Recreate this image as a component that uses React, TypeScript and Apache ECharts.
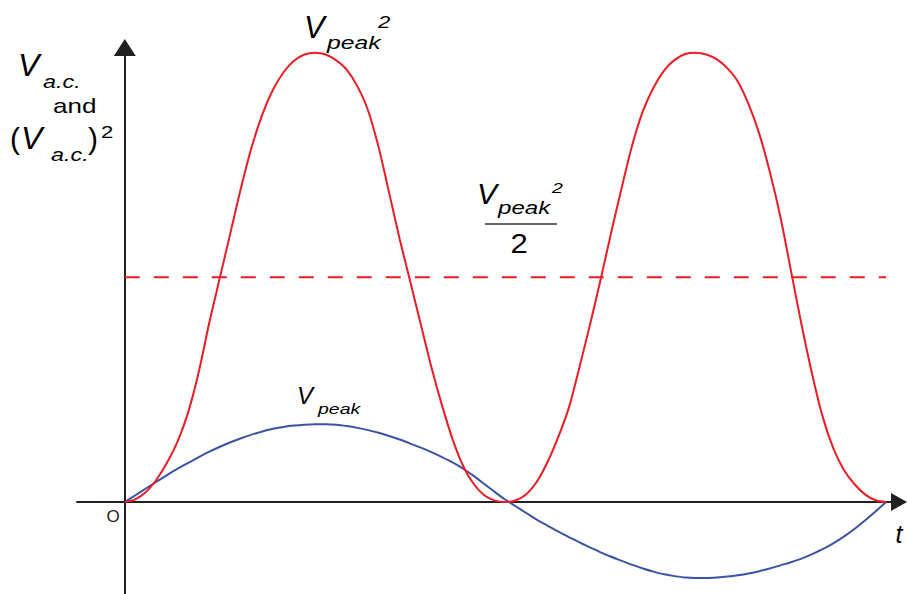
import React, { useEffect, useRef } from "react";
import * as echarts from "echarts";

// phase angle (degrees) along t
const tDeg = [
  0, 5, 10, 15, 20, 25, 30, 35, 40, 45, 50, 55, 60, 65, 70, 75, 80, 85, 90, 95, 100, 105, 110,
  115, 120, 125, 130, 135, 140, 145, 150, 155, 160, 165, 170, 175, 180, 185, 190, 195, 200,
  205, 210, 215, 220, 225, 230, 235, 240, 245, 250, 255, 260, 265, 270, 275, 280, 285, 290,
  295, 300, 305, 310, 315, 320, 325, 330, 335, 340, 345, 350, 355, 360,
];
// (V a.c.)^2, normalised to Vpeak^2 = 1
const squareVals = [
  0, 0.006, 0.022, 0.05, 0.088, 0.135, 0.2, 0.29, 0.4, 0.5, 0.6, 0.7, 0.79, 0.862, 0.917,
  0.956, 0.982, 0.996, 1.0, 0.996, 0.983, 0.962, 0.925, 0.872, 0.79, 0.688, 0.585, 0.49,
  0.395, 0.3, 0.215, 0.14, 0.08, 0.04, 0.015, 0.003, 0, 0.004, 0.018, 0.046, 0.09, 0.145,
  0.21, 0.3, 0.395, 0.495, 0.6, 0.7, 0.795, 0.87, 0.922, 0.96, 0.984, 0.997, 1.0, 0.996,
  0.985, 0.965, 0.935, 0.885, 0.82, 0.735, 0.635, 0.515, 0.395, 0.285, 0.19, 0.12, 0.072,
  0.04, 0.017, 0.004, 0,
];
// V a.c. on the same scale
const acVals = [
  0, 0.015, 0.03, 0.045, 0.06, 0.074, 0.087, 0.1, 0.112, 0.123, 0.133, 0.142, 0.15, 0.157,
  0.163, 0.167, 0.17, 0.172, 0.173, 0.173, 0.172, 0.169, 0.165, 0.16, 0.154, 0.147, 0.139,
  0.13, 0.121, 0.111, 0.1, 0.088, 0.074, 0.058, 0.04, 0.022, 0.005, -0.01, -0.025, -0.04,
  -0.053, -0.066, -0.078, -0.09, -0.101, -0.112, -0.122, -0.131, -0.14, -0.148, -0.155,
  -0.161, -0.165, -0.168, -0.169, -0.169, -0.168, -0.166, -0.163, -0.159, -0.154, -0.148,
  -0.141, -0.134, -0.126, -0.116, -0.105, -0.092, -0.077, -0.06, -0.041, -0.021, 0,
];
const halfLevel = 0.5; // Vpeak^2 / 2

const RED = "#ec1c24";
const BLUE = "#3a53a4";
const AXIS = "#231f20";
const FONT = "'Liberation Sans', Arial, sans-serif";

type T = {
  text: string;
  x: number;
  base: number; // baseline
  size: number;
  italic?: boolean;
  sx?: number;
  color?: string;
  align?: string;
};

const labels: T[] = [
  // top-left axis title
  { text: "V", x: 18, base: 75, size: 32, italic: true },
  { text: "a.c.", x: 43, base: 87, size: 18, italic: true, sx: 1.3 },
  { text: "and", x: 53, base: 112, size: 20, sx: 1.3 },
  { text: "(", x: 10, base: 148, size: 30 },
  { text: "V", x: 21, base: 148, size: 32, italic: true },
  { text: "a.c.", x: 51, base: 160, size: 18, italic: true, sx: 1.3 },
  { text: ")", x: 88, base: 148, size: 30 },
  { text: "2", x: 101, base: 137.5, size: 17, sx: 1.3 },
  // peak of square curve
  { text: "V", x: 304, base: 37, size: 31, italic: true },
  { text: "peak", x: 327, base: 48, size: 19, italic: true, sx: 1.3 },
  { text: "2", x: 378, base: 27.5, size: 17, italic: true, sx: 1.3 },
  // fraction
  { text: "V", x: 477, base: 203, size: 30, italic: true },
  { text: "peak", x: 498, base: 213, size: 19, italic: true, sx: 1.27 },
  { text: "2", x: 552, base: 192.5, size: 15, italic: true, sx: 1.3 },
  { text: "2", x: 519, base: 252, size: 27, align: "center", sx: 1.15 },
  // Vpeak near blue curve
  { text: "V", x: 297, base: 403, size: 24, italic: true },
  { text: "peak", x: 318, base: 413, size: 15, italic: true, sx: 1.3 },
  // origin and t
  { text: "O", x: 113, base: 522, size: 17, align: "center", color: AXIS },
  { text: "t", x: 899, base: 542, size: 25, italic: true, align: "center" },
];

export default function App() {
  const ref = useRef<HTMLDivElement>(null);
  useEffect(() => {
    if (!ref.current) return;
    const chart = echarts.init(ref.current, undefined, { renderer: "svg" });
    const sq = tDeg.map((t, i) => [t, squareVals[i]]);
    const ac = tDeg.map((t, i) => [t, acVals[i]]);
    const half = [
      [tDeg[0], halfLevel],
      [tDeg[tDeg.length - 1], halfLevel],
    ];
    const texts = labels.map((l) => ({
      type: "text",
      x: l.x,
      y: l.base - 0.31 * l.size,
      scaleX: l.sx ?? 1,
      z: 100,
      style: {
        text: l.text,
        fill: l.color ?? "#000",
        fontSize: l.size,
        fontFamily: FONT,
        fontStyle: l.italic ? "italic" : "normal",
        align: l.align ?? "left",
        verticalAlign: "middle",
      },
    }));
    chart.setOption({
      animation: false,
      backgroundColor: "#ffffff",
      grid: { left: 77, right: 8, top: 47.5, bottom: 0, outerBoundsMode: "none" },
      xAxis: {
        type: "value",
        min: -22.6,
        max: 366.1,
        axisLine: {
          onZero: true,
          symbol: ["none", "triangle"],
          symbolSize: [18, 16],
          lineStyle: { color: AXIS, width: 2 },
        },
        axisTick: { show: false },
        axisLabel: { show: false },
        splitLine: { show: false },
      },
      yAxis: {
        type: "value",
        min: -0.2048,
        max: 1.0116,
        axisLine: {
          show: true,
          onZero: true,
          symbol: ["none", "triangle"],
          symbolSize: [22, 17],
          lineStyle: { color: AXIS, width: 2 },
        },
        axisTick: { show: false },
        axisLabel: { show: false },
        splitLine: { show: false },
      },
      series: [
        {
          type: "line",
          data: ac,
          smooth: 0.3,
          showSymbol: false,
          lineStyle: { color: BLUE, width: 2 },
          z: 2,
        },
        {
          type: "line",
          data: sq,
          smooth: 0.3,
          showSymbol: false,
          lineStyle: { color: RED, width: 2 },
          z: 3,
        },
        {
          type: "line",
          data: half,
          showSymbol: false,
          lineStyle: { color: RED, width: 2, type: [15, 14] },
          z: 3,
        },
      ],
      graphic: [
        ...texts,
        {
          type: "line",
          shape: { x1: 485, y1: 224, x2: 557, y2: 224 },
          style: { stroke: "#333", lineWidth: 1.5 },
          z: 100,
        },
      ],
    });
    return () => chart.dispose();
  }, []);
  return (
    <div
      ref={ref}
      style={{ position: "fixed", left: 0, top: 0, width: 907, height: 594, background: "#fff" }}
    />
  );
}
